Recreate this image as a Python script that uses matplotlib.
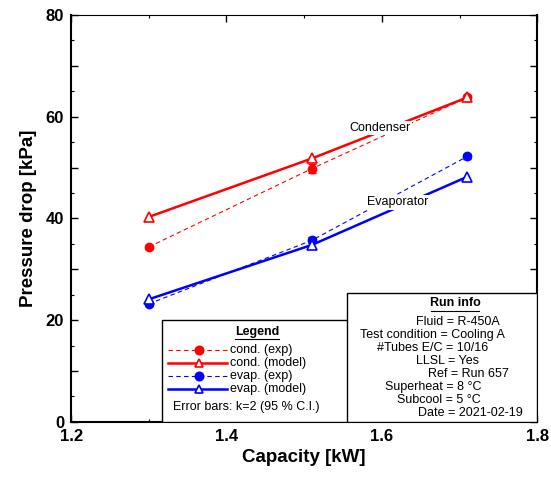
import matplotlib
matplotlib.use('Agg')
import matplotlib.pyplot as plt
from matplotlib.patches import Rectangle
from matplotlib.lines import Line2D
from matplotlib.ticker import MultipleLocator, FuncFormatter

plt.rcParams['font.family'] = ['Liberation Sans', 'DejaVu Sans']

# data
capacity = [1.30, 1.51, 1.71]
cond_exp = [34.4, 49.8, 63.8]
cond_exp_err = [0.4, 0.9, 0.5]
cond_model = [40.3, 51.8, 63.8]
evap_exp = [23.2, 35.7, 52.2]
evap_exp_err = [0.4, 0.6, 0.5]
evap_model = [24.1, 34.8, 48.2]

run_info = [
    'Fluid = R-450A',
    'Test condition = Cooling A',
    '#Tubes E/C = 10/16',
    'LLSL = Yes',
    'Ref = Run 657',
    'Superheat = 8 °C',
    'Subcool = 5 °C',
    'Date = 2021-02-19',
]
# left start of each run-info line (axes fraction)
run_info_x = [0.740, 0.620, 0.657, 0.740, 0.766, 0.674, 0.700, 0.745]

fig = plt.figure(figsize=(5.51, 4.86), dpi=100)
ax = fig.add_axes([0.129, 0.132, 0.846, 0.837])

# ---- series ----
ax.errorbar(capacity, cond_exp, yerr=cond_exp_err, color='red', linestyle=(0, (4, 3)),
            linewidth=0.8, marker='o', markersize=6, capsize=3, elinewidth=0.8, zorder=3)
ax.plot(capacity, cond_model, color='red', linewidth=1.8, marker='^', markersize=7,
        markerfacecolor='white', markeredgecolor='red', markeredgewidth=1.2, zorder=4)
ax.errorbar(capacity, evap_exp, yerr=evap_exp_err, color='blue', linestyle=(0, (4, 3)),
            linewidth=0.8, marker='o', markersize=6, capsize=3, elinewidth=0.8, zorder=3)
ax.plot(capacity, evap_model, color='blue', linewidth=1.8, marker='^', markersize=7,
        markerfacecolor='white', markeredgecolor='blue', markeredgewidth=1.2, zorder=4)

ax.text(1.598, 57.8, 'Condenser', fontsize=9, ha='center', va='center', zorder=5,
        bbox=dict(facecolor='white', edgecolor='none', pad=1))
ax.text(1.621, 43.2, 'Evaporator', fontsize=9, ha='center', va='center', zorder=5,
        bbox=dict(facecolor='white', edgecolor='none', pad=1))

# ---- axes ----
ax.set_xlim(1.2, 1.8)
ax.set_ylim(0, 80)
ax.xaxis.set_major_locator(MultipleLocator(0.2))
ax.xaxis.set_minor_locator(MultipleLocator(0.1))
ax.yaxis.set_major_locator(MultipleLocator(10))
ax.yaxis.set_minor_locator(MultipleLocator(5))
ax.yaxis.set_major_formatter(FuncFormatter(lambda v, p: f'{v:.0f}' if v % 20 == 0 else ''))
ax.xaxis.set_major_formatter(FuncFormatter(lambda v, p: f'{v:.1f}'))
ax.tick_params(which='both', direction='in', top=True, right=True)
ax.tick_params(which='major', length=5, width=1.0, labelsize=12, pad=5)
ax.tick_params(which='minor', length=2.5, width=0.8)
for lbl in ax.get_xticklabels() + ax.get_yticklabels():
    lbl.set_fontweight('bold')
for side in ['left', 'right', 'bottom']:
    ax.spines[side].set_linewidth(1.5)
ax.spines['top'].set_linewidth(0.8)

ax.set_xlabel('Capacity [kW]', fontsize=13.5, fontweight='bold', labelpad=4)
ax.set_ylabel('Pressure drop [kPa]', fontsize=13.5, fontweight='bold', labelpad=6)

# ---- legend box ----
tr = ax.transAxes
ax.add_patch(Rectangle((0.195, 0.0), 0.399, 0.25, transform=tr, facecolor='white',
                       edgecolor='black', linewidth=1.0, zorder=6))
ax.text(0.399, 0.222, 'Legend', transform=tr, fontsize=9, fontweight='bold',
        ha='center', va='center', zorder=7)
ax.add_line(Line2D([0.352, 0.446], [0.203, 0.203], transform=tr, color='black',
                   linewidth=0.8, zorder=7))

entries = [
    ('cond. (exp)', 'red', (0, (4, 3)), 0.8, 'o', 'red'),
    ('cond. (model)', 'red', '-', 1.8, '^', 'white'),
    ('evap. (exp)', 'blue', (0, (4, 3)), 0.8, 'o', 'blue'),
    ('evap. (model)', 'blue', '-', 1.8, '^', 'white'),
]
entry_y = [0.177, 0.145, 0.112, 0.080]
for (label, col, ls, lw, mk, mfc), yy in zip(entries, entry_y):
    ax.add_line(Line2D([0.208, 0.335], [yy, yy], transform=tr, color=col,
                       linestyle=ls, linewidth=lw, zorder=7))
    ax.add_line(Line2D([0.275], [yy], transform=tr, marker=mk, markersize=6,
                       markerfacecolor=mfc, markeredgecolor=col, markeredgewidth=1.2,
                       linestyle='none', zorder=8))
    ax.text(0.341, yy, label, transform=tr, fontsize=9, ha='left', va='center', zorder=7)
ax.text(0.219, 0.036, 'Error bars: k=2 (95 % C.I.)', transform=tr, fontsize=9,
        ha='left', va='center', zorder=7)

# ---- run info box ----
ax.add_patch(Rectangle((0.592, 0.0), 0.408, 0.317, transform=tr, facecolor='white',
                       edgecolor='black', linewidth=1.0, zorder=6))
ax.text(0.824, 0.292, 'Run info', transform=tr, fontsize=9, fontweight='bold',
        ha='center', va='center', zorder=7)
ax.add_line(Line2D([0.773, 0.876], [0.273, 0.273], transform=tr, color='black',
                   linewidth=0.8, zorder=7))
info_y = [0.246, 0.214, 0.182, 0.150, 0.118, 0.086, 0.054, 0.022]
for s, xx, yy in zip(run_info, run_info_x, info_y):
    ax.text(xx, yy, s, transform=tr, fontsize=9, ha='left', va='center', zorder=7)

fig.savefig('out.png', dpi=100)
